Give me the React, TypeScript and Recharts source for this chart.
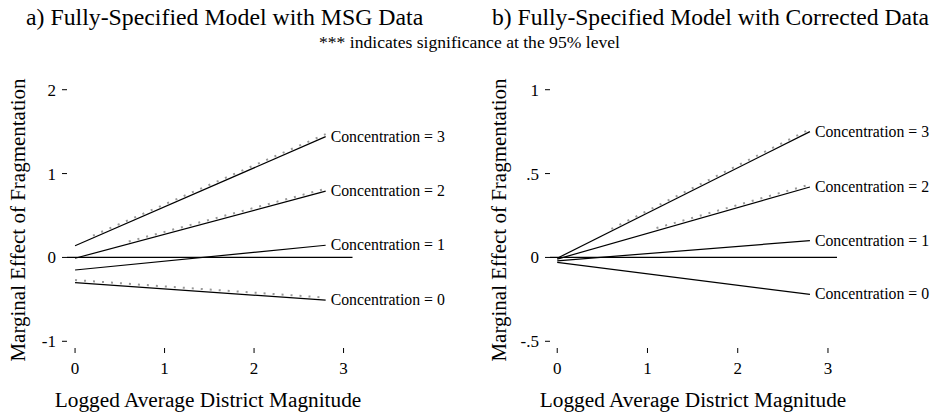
import React from 'react';
import { LineChart, Line, XAxis, YAxis, ReferenceLine } from 'recharts';

const FONT = '"Liberation Serif", "Times New Roman", serif';

// x positions where each predicted line starts and ends
const xEnds = [0, 2.8];
const concLevels = [0, 1, 2, 3];

// panel a) MSG data: marginal effect at x=0 and x=2.8, per concentration level
const msgStart = [-0.3, -0.15, -0.01, 0.14];
const msgEnd = [-0.51, 0.145, 0.79, 1.44];
// significant stretches (dotted markers) for panel a)
const msgSigFrom = [0, null, 0.6, 0.2];
const msgSigStartY = [-0.27, null, 0.19, 0.26];
const msgSigEndY = [-0.48, null, 0.82, 1.47];

// panel b) corrected data
const corStart = [-0.03, -0.02, -0.01, -0.005];
const corEnd = [-0.22, 0.1, 0.42, 0.75];
const corSigFrom = [null, null, 1.1, 0.6];
const corSigStartY = [null, null, 0.175, 0.17];
const corSigEndY = [null, null, 0.435, 0.765];

const msgTicks = [-1, 0, 1, 2];
const corTicks = [-0.5, 0, 0.5, 1];
const xTicks = [0, 1, 2, 3];

const fmtMsg = (v: number) => String(v);
const fmtCor = (v: number) => (v === 0.5 ? '.5' : v === -0.5 ? '-.5' : String(v));

type Pt = { x: number; y: number };

const buildLines = (starts: number[], ends: number[]): Pt[][] =>
  concLevels.map((_, i) => [
    { x: xEnds[0], y: starts[i] },
    { x: xEnds[1], y: ends[i] },
  ]);

const buildSig = (from: (number | null)[], y0: (number | null)[], y1: (number | null)[]): Pt[][] =>
  from
    .map((f, i) =>
      f === null ? null : [
        { x: f, y: y0[i] as number },
        { x: xEnds[1], y: y1[i] as number },
      ]
    )
    .filter((s): s is Pt[] => s !== null);

const endLabel = (text: string) => (props: any) => {
  if (props.index !== 1) return null;
  return (
    <text key={text} x={props.x + 5} y={props.y} dy={5} fontSize={15.8} fill="#000">
      {text}
    </text>
  );
};

type PanelProps = {
  lines: Pt[][];
  sig: Pt[][];
  yDomain: [number, number];
  yTicks: number[];
  fmt: (v: number) => string;
  yAxisWidth: number;
  xDomain: [number, number];
  marginRight: number;
  yLabelX: number;
  xLabelX: number;
};

function Panel(p: PanelProps) {
  return (
    <LineChart
      width={470}
      height={413}
      margin={{ top: 83, right: p.marginRight, bottom: 0, left: 0 }}
    >
      <XAxis
        type="number"
        dataKey="x"
        domain={p.xDomain}
        ticks={xTicks}
        axisLine={false}
        tickSize={5}
        tickMargin={9}
        height={65}
        stroke="#000"
        tick={{ fill: '#000', fontSize: 17 }}
        label={{
          content: () => (
            <text x={p.xLabelX} y={407} textAnchor="middle" fontSize={21.3} fill="#000">
              Logged Average District Magnitude
            </text>
          ),
        }}
      />
      <YAxis
        type="number"
        dataKey="y"
        domain={p.yDomain}
        ticks={p.yTicks}
        tickFormatter={p.fmt}
        axisLine={false}
        tickSize={5}
        tickMargin={6}
        width={p.yAxisWidth}
        stroke="#000"
        tick={{ fill: '#000', fontSize: 17 }}
        label={{
          content: () => (
            <text
              transform={`translate(${p.yLabelX},220) rotate(-90)`}
              textAnchor="middle"
              fontSize={21}
              fill="#000"
            >
              Marginal Effect of Fragmentation
            </text>
          ),
        }}
      />
      <ReferenceLine y={0} stroke="#000" strokeWidth={1.2} />
      {p.sig.map((s, i) => (
        <Line
          key={'sig' + i}
          data={s}
          dataKey="y"
          type="linear"
          stroke="#999"
          strokeWidth={2}
          strokeDasharray="2 7"
          dot={false}
          activeDot={false}
          isAnimationActive={false}
        />
      ))}
      {p.lines.map((l, i) => (
        <Line
          key={'line' + i}
          data={l}
          dataKey="y"
          type="linear"
          stroke="#000"
          strokeWidth={1.2}
          dot={false}
          activeDot={false}
          isAnimationActive={false}
          label={endLabel(`Concentration = ${concLevels[i]}`)}
        />
      ))}
    </LineChart>
  );
}

export default function App() {
  return (
    <div
      style={{
        position: 'absolute',
        left: 0,
        top: 0,
        width: 939,
        height: 413,
        background: '#fff',
        fontFamily: FONT,
        color: '#000',
        overflow: 'hidden',
      }}
    >
      <style>{`svg text { font-family: ${FONT} !important; }`}</style>
      <div style={{ position: 'absolute', left: 0, top: 0 }}>
        <Panel
          lines={buildLines(msgStart, msgEnd)}
          sig={buildSig(msgSigFrom, msgSigStartY, msgSigEndY)}
          yDomain={[-1.08, 2.08]}
          yTicks={msgTicks}
          fmt={fmtMsg}
          yAxisWidth={67}
          xDomain={[-0.09, 3.1]}
          marginRight={117.5}
          yLabelX={25}
          xLabelX={208}
        />
      </div>
      <div style={{ position: 'absolute', left: 470, top: 0 }}>
        <Panel
          lines={buildLines(corStart, corEnd)}
          sig={buildSig(corSigFrom, corSigStartY, corSigEndY)}
          yDomain={[-0.54, 1.04]}
          yTicks={corTicks}
          fmt={fmtCor}
          yAxisWidth={80}
          xDomain={[-0.08, 3.1]}
          marginRight={103}
          yLabelX={36}
          xLabelX={223}
        />
      </div>
      <div style={{ position: 'absolute', left: 26, top: 1, whiteSpace: 'nowrap', fontSize: 23.8, lineHeight: '32px' }}>
        a) Fully-Specified Model with MSG Data
      </div>
      <div style={{ position: 'absolute', left: 492, top: 1, whiteSpace: 'nowrap', fontSize: 23.6, lineHeight: '32px' }}>
        b) Fully-Specified Model with Corrected Data
      </div>
      <div style={{ position: 'absolute', left: 0, width: 939, top: 31, textAlign: 'center', fontSize: 17.6, lineHeight: '22px' }}>
        *** indicates significance at the 95% level
      </div>
    </div>
  );
}
